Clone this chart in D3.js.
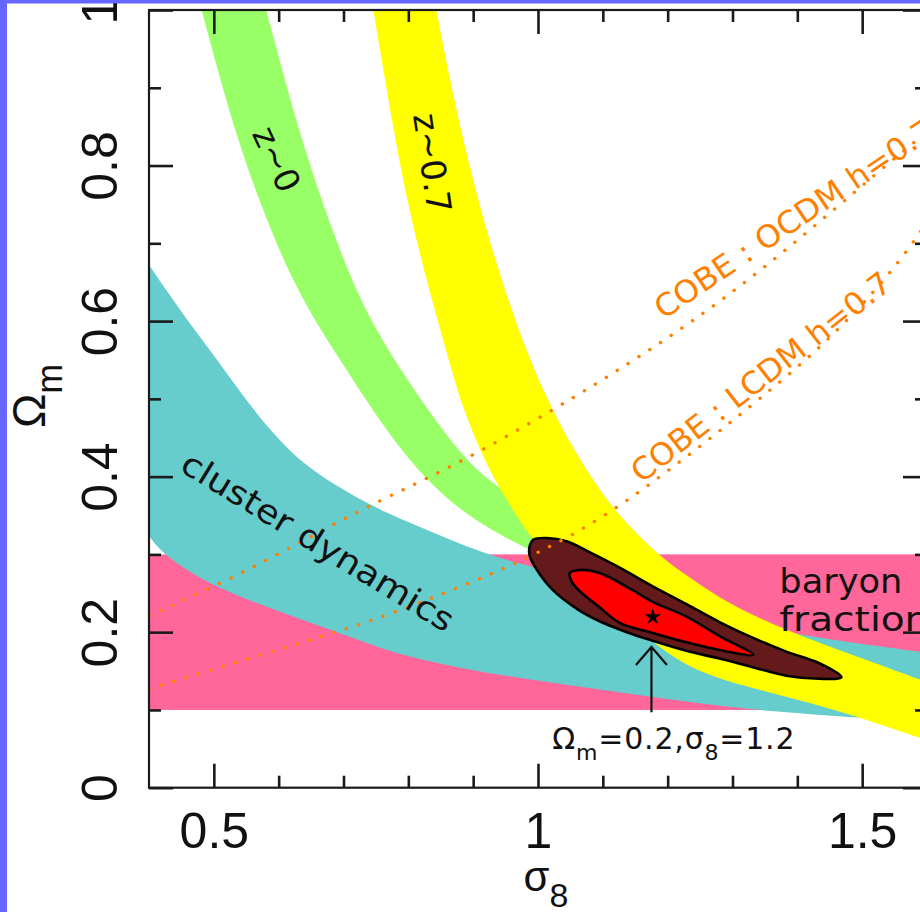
<!DOCTYPE html>
<html>
<head>
<meta charset="utf-8">
<script src="https://cdn.jsdelivr.net/npm/d3@7"></script>
<style>
  html, body { margin: 0; padding: 0; background: #6666ff; }
  svg { display: block; }
</style>
</head>
<body>
<svg id="chart" width="920" height="912"></svg>
<script>
// ---- axis ticks ----
const xMajorTicks  = [0.5, 1.0, 1.5];
const xMajorLabels = ["0.5", "1", "1.5"];
const xMinorTicks  = [0.6, 0.7, 0.8, 0.9, 1.1, 1.2, 1.3, 1.4];
const yMajorTicks  = [0, 0.2, 0.4, 0.6, 0.8, 1];
const yMajorLabels = ["0", "0.2", "0.4", "0.6", "0.8", "1"];
const yMinorTicks  = [0.1, 0.3, 0.5, 0.7, 0.9];

// ---- constraint bands, points are [sigma8, Omega_m] ----
// cluster abundance at z~0
const greenLower = [[0.469,1.039],[0.481,1.000],[0.535,0.833],[0.593,0.704],[0.641,0.619],
  [0.708,0.533],[0.790,0.428],[0.882,0.351],[0.982,0.308]];
const greenUpper = [[0.568,1.039],[0.581,1.000],[0.634,0.833],[0.688,0.704],[0.729,0.619],
  [0.790,0.533],[0.885,0.421],[0.941,0.385],[1.003,0.351],[1.056,0.308]];

// cluster abundance at z~0.7
const yellowLower = [[0.738,1.039],[0.746,1.000],[0.764,0.910],[0.782,0.824],[0.802,0.739],
  [0.828,0.653],[0.858,0.563],[0.884,0.486],[0.922,0.412],[0.952,0.370],[0.987,0.322],
  [1.033,0.283],[1.095,0.239],[1.141,0.213],[1.192,0.177],[1.234,0.155],[1.280,0.140],
  [1.331,0.128],[1.383,0.117],[1.485,0.094],[1.588,0.064],[1.610,0.059]];
const yellowUpper = [[0.835,1.039],[0.843,1.000],[0.864,0.910],[0.895,0.794],[0.929,0.691],
  [0.969,0.589],[1.010,0.505],[1.056,0.432],[1.110,0.364],[1.157,0.322],[1.195,0.293],
  [1.234,0.270],[1.280,0.244],[1.331,0.222],[1.383,0.203],[1.434,0.186],[1.511,0.163],
  [1.588,0.139],[1.610,0.134]];

// cluster dynamics
const cyanUpper = [[0.400,0.672],[0.451,0.610],[0.503,0.553],[0.554,0.493],[0.602,0.445],
  [0.648,0.409],[0.736,0.365],[0.787,0.346],[0.838,0.328],[0.890,0.310],[0.941,0.295],
  [0.992,0.284],[1.095,0.261],[1.249,0.226],[1.383,0.199],[1.496,0.185],[1.588,0.175],[1.600,0.173]];
const cyanLower = [[0.400,0.324],[0.422,0.299],[0.499,0.257],[0.633,0.217],[0.736,0.186],
  [0.787,0.171],[0.879,0.154],[0.941,0.145],[1.095,0.126],[1.249,0.108],[1.372,0.097],
  [1.480,0.091],[1.588,0.085],[1.600,0.085]];

// baryon fraction range in Omega_m
const baryonRange = [0.1, 0.3];

// joint likelihood contours (closed loops)
const outerContour = [[0.987,0.310],[0.993,0.319],[1.013,0.321],[1.044,0.317],[1.084,0.301],
  [1.126,0.283],[1.177,0.259],[1.229,0.236],[1.280,0.213],[1.331,0.193],[1.383,0.175],
  [1.434,0.160],[1.468,0.142],[1.434,0.140],[1.383,0.144],[1.331,0.155],[1.280,0.166],
  [1.229,0.176],[1.177,0.189],[1.137,0.200],[1.095,0.214],[1.060,0.230],[1.023,0.254],
  [0.996,0.283],[0.987,0.299]];
const innerContour = [[1.049,0.276],[1.064,0.280],[1.095,0.276],[1.146,0.254],[1.177,0.239],
  [1.229,0.220],[1.280,0.195],[1.332,0.171],[1.280,0.177],[1.229,0.187],[1.177,0.199],
  [1.126,0.212],[1.095,0.232],[1.064,0.253],[1.052,0.265]];
const bestFit = [1.177, 0.2195];

// pointer to the simulated model
const arrowSigma = 1.175;
const arrowOmega = [0.097, 0.181];
const modelOmega = "0.2";
const modelSigma = "1.2";

// COBE normalisation curves
const cobeOCDM = [[0.400,0.221],[0.525,0.268],[0.633,0.315],[0.736,0.362],[0.868,0.412],
  [1.033,0.490],[1.141,0.546],[1.238,0.599],[1.341,0.663],[1.445,0.735],[1.546,0.807],[1.600,0.843]];
const cobeLCDM = [[0.400,0.127],[0.529,0.160],[0.633,0.186],[0.736,0.212],[0.875,0.256],
  [0.967,0.289],[1.018,0.310],[1.060,0.328],[1.141,0.370],[1.249,0.438],[1.341,0.499],
  [1.445,0.572],[1.546,0.662],[1.600,0.727]];

// ---- layout ----
const x = d3.scaleLinear().domain([0.4, 1.6]).range([149, 927]);
const y = d3.scaleLinear().domain([0, 1]).range([787.7, 10]);

const svg = d3.select("#chart");
svg.append("rect").attr("x", 7).attr("y", 3.3).attr("width", 913).attr("height", 909).attr("fill", "#ffffff");

svg.append("defs").append("clipPath").attr("id", "plotClip").append("rect")
  .attr("x", x(0.4)).attr("y", y(1))
  .attr("width", x(1.6) - x(0.4)).attr("height", y(0) - y(1));

const plot = svg.append("g").attr("clip-path", "url(#plotClip)");

// smooth band edges and curves
const edge = d3.line().x(d => x(d[0])).y(d => y(d[1])).curve(d3.curveBasis);
const loop = d3.line().x(d => x(d[0])).y(d => y(d[1])).curve(d3.curveCatmullRomClosed.alpha(0.5));
function band(a, b) {
  return edge(a) + edge(b.slice().reverse()).replace(/^M/, "L") + "Z";
}

// baryon fraction strip
plot.append("rect")
  .attr("x", x(0.4)).attr("width", x(1.6) - x(0.4))
  .attr("y", y(baryonRange[1])).attr("height", y(baryonRange[0]) - y(baryonRange[1]))
  .attr("fill", "#ff6699");

plot.append("path").attr("d", band(cyanUpper, cyanLower)).attr("fill", "#66cccc");
plot.append("path").attr("d", band(greenLower, greenUpper)).attr("fill", "#99ff66");
plot.append("path").attr("d", band(yellowLower, yellowUpper)).attr("fill", "#ffff00");

// likelihood contours
plot.append("path").attr("d", loop(outerContour))
  .attr("fill", "#641a1a").attr("stroke", "#000").attr("stroke-width", 2.6).attr("stroke-linejoin", "round");
plot.append("path").attr("d", loop(innerContour))
  .attr("fill", "#ff0000").attr("stroke", "#000").attr("stroke-width", 2.6).attr("stroke-linejoin", "round");
plot.append("path")
  .attr("d", d3.symbol(d3.symbolStar, 85)())
  .attr("transform", `translate(${x(bestFit[0])},${y(bestFit[1])})`)
  .attr("fill", "#000");

// COBE curves
[cobeOCDM, cobeLCDM].forEach(c => {
  plot.append("path").attr("d", edge(c))
    .attr("fill", "none").attr("stroke", "#ff8000").attr("stroke-width", 3.4)
    .attr("stroke-linecap", "round").attr("stroke-dasharray", "0.1 12.8");
});

// arrow to the model point
const ax = x(arrowSigma), aTip = y(arrowOmega[1]), aTail = y(arrowOmega[0]);
plot.append("path")
  .attr("d", `M${ax},${aTail}L${ax},${aTip}M${ax - 15.5},${aTip + 18}L${ax},${aTip}L${ax + 15.5},${aTip + 18}`)
  .attr("fill", "none").attr("stroke", "#111").attr("stroke-width", 2.2).attr("stroke-linejoin", "miter");

// ---- text inside the plot ----
const annFont = "DejaVu Sans, Verdana, sans-serif";
function rotText(str, pos, angle, opts) {
  const t = plot.append("text")
    .attr("transform", `translate(${x(pos[0])},${y(pos[1])}) rotate(${angle})`)
    .attr("font-family", annFont)
    .attr("font-size", opts.size)
    .attr("fill", opts.color || "#111")
    .attr("text-anchor", opts.anchor || "start")
    .text(str);
  if (opts.dominant) t.attr("dominant-baseline", opts.dominant);
  if (opts.length) t.attr("textLength", opts.length).attr("lengthAdjust", "spacingAndGlyphs");
  return t;
}

rotText("z~0",   [0.597, 0.808], 65,   { size: 34, anchor: "middle", dominant: "central" });
rotText("z~0.7", [0.837, 0.803], 81.5, { size: 34, anchor: "middle", dominant: "central" });
rotText("cluster dynamics", [0.445, 0.4085], 31.4, { size: 33, length: 313 });
rotText("COBE : OCDM h=0.7", [1.1935, 0.6014], -34, { size: 31, length: 330, color: "#ff8000" });
rotText("COBE : LCDM h=0.7", [1.1596, 0.3905], -38, { size: 31, length: 320, color: "#ff8000" });
rotText("baryon",   [1.3723, 0.2507], 0, { size: 33, length: 123 });
rotText("fraction", [1.3723, 0.2015], 0, { size: 33, length: 150 });

// model label
const ml = plot.append("text")
  .attr("x", x(1.2095)).attr("y", y(0.0498))
  .attr("text-anchor", "middle")
  .attr("font-family", annFont).attr("font-size", 30).attr("letter-spacing", 0.8).attr("fill", "#111");
ml.append("tspan").text("Ω");
ml.append("tspan").attr("font-size", 22).attr("dy", 11).text("m");
ml.append("tspan").attr("dy", -11).text("=" + modelOmega + ",σ");
ml.append("tspan").attr("font-size", 22).attr("dy", 11).text("8");
ml.append("tspan").attr("dy", -11).text("=" + modelSigma);

// ---- axes ----
const tickFont = "Liberation Sans, Arial, Helvetica, sans-serif";
function styleAxis(g) {
  g.select(".domain").remove();
  g.selectAll(".tick line").attr("stroke", "#1a1a1a").attr("stroke-width", 2.6);
  g.attr("font-family", tickFont).attr("font-size", 50);
  g.selectAll(".tick text").attr("fill", "#111");
}

// bottom
svg.append("g").attr("transform", `translate(0,${y(0)})`)
  .call(d3.axisBottom(x).tickValues(xMinorTicks).tickSize(-12).tickFormat(""))
  .call(styleAxis);
svg.append("g").attr("transform", `translate(0,${y(0)})`)
  .call(d3.axisBottom(x).tickValues(xMajorTicks).tickSize(-24).tickPadding(25)
        .tickFormat((d, i) => xMajorLabels[i]))
  .call(styleAxis);
// top
svg.append("g").attr("transform", `translate(0,${y(1)})`)
  .call(d3.axisTop(x).tickValues(xMinorTicks).tickSize(-12).tickFormat(""))
  .call(styleAxis);
svg.append("g").attr("transform", `translate(0,${y(1)})`)
  .call(d3.axisTop(x).tickValues(xMajorTicks).tickSize(-24).tickFormat(""))
  .call(styleAxis);
// left
svg.append("g").attr("transform", `translate(${x(0.4)},0)`)
  .call(d3.axisLeft(y).tickValues(yMinorTicks).tickSize(-12).tickFormat(""))
  .call(styleAxis);
const leftMajor = svg.append("g").attr("transform", `translate(${x(0.4)},0)`)
  .call(d3.axisLeft(y).tickValues(yMajorTicks).tickSize(-24)
        .tickFormat((d, i) => yMajorLabels[i]))
  .call(styleAxis);
leftMajor.selectAll(".tick text")
  .attr("x", null).attr("dy", null)
  .attr("text-anchor", "middle")
  .attr("transform", "translate(-32,0) rotate(-90)");
// right
svg.append("g").attr("transform", `translate(${x(1.6)},0)`)
  .call(d3.axisRight(y).tickValues(yMinorTicks).tickSize(-12).tickFormat(""))
  .call(styleAxis);
svg.append("g").attr("transform", `translate(${x(1.6)},0)`)
  .call(d3.axisRight(y).tickValues(yMajorTicks).tickSize(-24).tickFormat(""))
  .call(styleAxis);

// frame
svg.append("rect")
  .attr("x", x(0.4)).attr("y", y(1))
  .attr("width", x(1.6) - x(0.4)).attr("height", y(0) - y(1))
  .attr("fill", "none").attr("stroke", "#1a1a1a").attr("stroke-width", 2.2);

// axis titles
const xt = svg.append("text")
  .attr("x", (x(0.4) + x(1.6)) / 2 + 8).attr("y", 891)
  .attr("text-anchor", "middle")
  .attr("font-family", tickFont).attr("font-size", 42).attr("fill", "#111");
xt.append("tspan").text("σ");
xt.append("tspan").attr("font-size", 34).attr("dy", 16).text("8");

const yt = svg.append("text")
  .attr("transform", `translate(45,${(y(0) + y(1)) / 2 - 3}) rotate(-90)`)
  .attr("text-anchor", "middle")
  .attr("font-family", tickFont).attr("font-size", 46).attr("fill", "#111");
yt.append("tspan").text("Ω");
yt.append("tspan").attr("font-size", 36).attr("dy", 17).text("m");

// page border strips
svg.append("rect").attr("x", 0).attr("y", 0).attr("width", 920).attr("height", 3.3).attr("fill", "#6666ff");
svg.append("rect").attr("x", 0).attr("y", 0).attr("width", 7).attr("height", 912).attr("fill", "#6666ff");
</script>
</body>
</html>
